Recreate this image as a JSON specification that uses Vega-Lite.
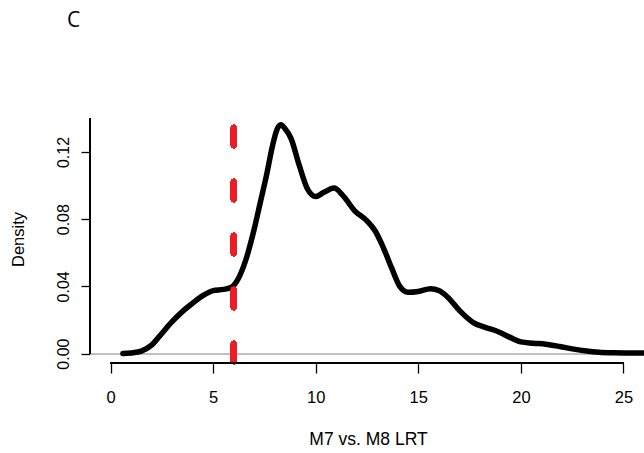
{
  "$schema": "https://vega.github.io/schema/vega-lite/v6.json",
  "autosize": "none",
  "width": 554,
  "height": 254,
  "padding": {"left": 90, "top": 109, "right": 0, "bottom": 90},
  "background": "white",
  "config": {"view": {"stroke": null}, "font": "Liberation Sans"},
  "title": {"text": "C", "anchor": "start", "frame": "group", "dx": -23, "offset": 58, "fontSize": 21, "font": "Open Sans", "fontWeight": "normal", "color": "#000000", "baseline": "alphabetic"},
  "data": {"values": [
    {"x": 0.6, "d": 0.0000}, {"x": 1.0, "d": 0.0004}, {"x": 1.5, "d": 0.0015}, {"x": 2.0, "d": 0.0050},
    {"x": 2.5, "d": 0.0120}, {"x": 3.0, "d": 0.0190}, {"x": 3.5, "d": 0.0250}, {"x": 4.0, "d": 0.0300},
    {"x": 4.5, "d": 0.0345}, {"x": 5.0, "d": 0.0375}, {"x": 5.5, "d": 0.0382}, {"x": 5.9, "d": 0.0395},
    {"x": 6.2, "d": 0.0440}, {"x": 6.6, "d": 0.0560}, {"x": 7.0, "d": 0.0740}, {"x": 7.3, "d": 0.0900},
    {"x": 7.6, "d": 0.1060}, {"x": 7.9, "d": 0.1240}, {"x": 8.1, "d": 0.1330}, {"x": 8.3, "d": 0.1362},
    {"x": 8.5, "d": 0.1340}, {"x": 8.8, "d": 0.1280}, {"x": 9.2, "d": 0.1120}, {"x": 9.6, "d": 0.0980},
    {"x": 10.0, "d": 0.0935}, {"x": 10.4, "d": 0.0960}, {"x": 10.9, "d": 0.0985}, {"x": 11.3, "d": 0.0945},
    {"x": 11.9, "d": 0.0850}, {"x": 12.5, "d": 0.0790}, {"x": 12.9, "d": 0.0730}, {"x": 13.3, "d": 0.0630},
    {"x": 13.7, "d": 0.0510}, {"x": 14.1, "d": 0.0400}, {"x": 14.5, "d": 0.0365}, {"x": 15.0, "d": 0.0370},
    {"x": 15.6, "d": 0.0386}, {"x": 16.0, "d": 0.0375}, {"x": 16.4, "d": 0.0340}, {"x": 17.0, "d": 0.0257},
    {"x": 17.7, "d": 0.0183}, {"x": 18.3, "d": 0.0155}, {"x": 18.9, "d": 0.0130}, {"x": 19.5, "d": 0.0095},
    {"x": 20.0, "d": 0.0070}, {"x": 20.6, "d": 0.0062}, {"x": 21.2, "d": 0.0056}, {"x": 21.9, "d": 0.0042},
    {"x": 22.5, "d": 0.0028}, {"x": 23.2, "d": 0.0015}, {"x": 23.8, "d": 0.0008}, {"x": 24.5, "d": 0.0005},
    {"x": 25.3, "d": 0.0004}, {"x": 26.5, "d": 0.0003}
  ]},
  "layer": [
    {
      "mark": {"type": "rule", "color": "#bebebe", "strokeWidth": 1.2},
      "encoding": {"y": {"datum": 0, "type": "quantitative"}}
    },
    {
      "mark": {"type": "line", "color": "#000000", "strokeWidth": 5.5, "interpolate": "monotone", "clip": true, "strokeCap": "round", "strokeJoin": "round"},
      "encoding": {
        "x": {"field": "x", "type": "quantitative",
          "scale": {"domain": [-1, 26], "nice": false, "zero": false},
          "axis": {"title": "M7 vs. M8 LRT", "values": [0, 5, 10, 15, 20, 25], "domain": false, "grid": false,
            "tickColor": "#000000", "tickSize": 10, "tickWidth": 1.3,
            "labelFontSize": 16.5, "labelColor": "#000000", "labelPadding": 29, "labelBaseline": "alphabetic", "labelFlush": false,
            "titleFontSize": 17.5, "titleFontWeight": "normal", "titleColor": "#000000", "titleX": 278, "titleY": 81, "titleBaseline": "alphabetic", "titleAnchor": null}},
        "y": {"field": "d", "type": "quantitative",
          "scale": {"domain": [-0.0056, 0.1456], "nice": false, "zero": false},
          "axis": {"title": "Density", "values": [0, 0.02, 0.04, 0.06, 0.08, 0.1, 0.12, 0.14], "domain": false, "grid": false,
            "labelExpr": "(round(datum.value*100) % 4 == 0) ? format(datum.value, '.2f') : ''",
            "tickColor": "#000000", "tickSize": 9, "tickWidth": 1.3,
            "labelFontSize": 16, "labelColor": "#000000", "labelAngle": -90, "labelAlign": "center", "labelBaseline": "alphabetic", "labelPadding": 13, "labelFlush": false, "labelOverlap": false,
            "titleFontSize": 16.5, "titleFontWeight": "normal", "titleColor": "#000000", "titleAngle": -90, "titleX": -67, "titleY": 130, "titleAlign": "center", "titleBaseline": "alphabetic"}}
      }
    },
    {
      "mark": {"type": "rule", "color": "#ee1d25", "strokeWidth": 5.5, "strokeDash": [18, 36], "strokeDashOffset": 35.5, "strokeCap": "round"},
      "encoding": {"x": {"datum": 6, "type": "quantitative"}, "y": {"datum": 0.1456, "type": "quantitative"}, "y2": {"datum": -0.0056}}
    },
    {
      "mark": {"type": "rule", "color": "#000000", "strokeWidth": 1.3},
      "encoding": {"x": {"datum": 0, "type": "quantitative"}, "x2": {"datum": 25}, "y": {"datum": -0.0056, "type": "quantitative"}}
    },
    {
      "mark": {"type": "rule", "color": "#000000", "strokeWidth": 1.3},
      "encoding": {"y": {"datum": 0, "type": "quantitative"}, "y2": {"datum": 0.14}, "x": {"datum": -1, "type": "quantitative"}}
    }
  ]
}
